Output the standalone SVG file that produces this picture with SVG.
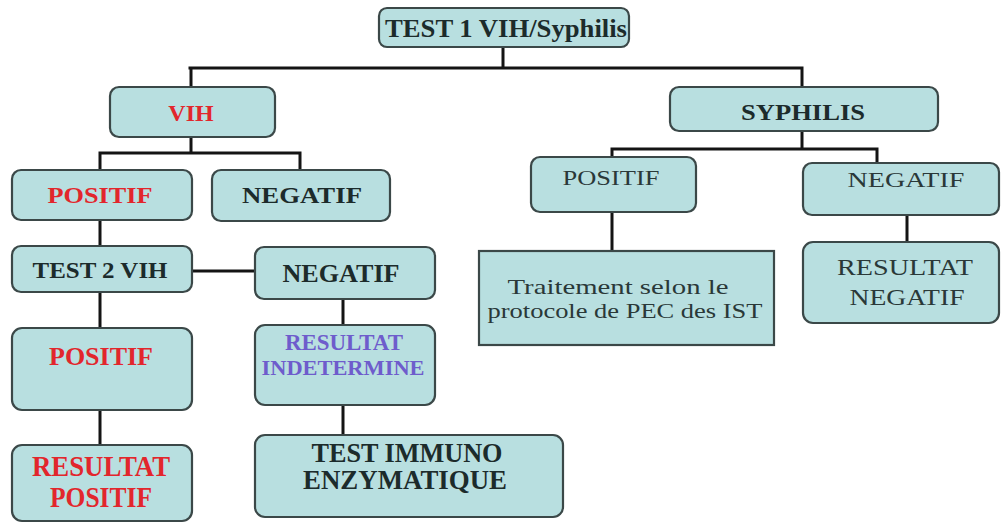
<svg xmlns="http://www.w3.org/2000/svg" width="1001" height="524" viewBox="0 0 1001 524">
<style>
.box{fill:#b8dfe0;stroke:#3b4848;stroke-width:2.2}
.t{font-family:"Liberation Serif","Times New Roman",serif;font-weight:bold;fill:#1c2b2b;text-anchor:middle}
.r{fill:#e2262c}
.p{fill:#6e5ccc}
.n{font-weight:normal;fill:#2a3838}
.c{stroke:#141414;stroke-width:3;fill:none;stroke-linecap:square}
</style>
<rect width="1001" height="524" fill="#ffffff"/>
<g id="connectors">
<path class="c" d="M503 47V68M190 68H802M191 68V87M802 68V87"/>
<path class="c" d="M191 137V153M100 153H300M100 153V170M300 153V170"/>
<path class="c" d="M802 131V149M612 149H877M612 149V157M877 149V163"/>
<path class="c" d="M612 212V251M907 215V242"/>
<path class="c" d="M100 220V246M192 271H255M100 292V328M100 410V445"/>
<path class="c" d="M343 299V325M343 405V435"/>
</g>
<g id="test1"><rect class="box" x="379" y="8" width="250" height="39" rx="8"/><text class="t" x="506" y="37" style="font-size:26px" textLength="242" lengthAdjust="spacingAndGlyphs">TEST 1 VIH/Syphilis</text></g>
<g id="vih"><rect class="box" x="110" y="87" width="165" height="50" rx="9"/><text class="t r" x="191" y="121" style="font-size:24px">VIH</text></g>
<g id="syphilis"><rect class="box" x="670" y="87" width="268" height="44" rx="9"/><text class="t" x="803" y="120" style="font-size:24px" textLength="124" lengthAdjust="spacingAndGlyphs">SYPHILIS</text></g>
<g id="vih-positif"><rect class="box" x="12" y="170" width="180" height="50" rx="9"/><text class="t r" x="100" y="203" style="font-size:24px" textLength="105" lengthAdjust="spacingAndGlyphs">POSITIF</text></g>
<g id="vih-negatif"><rect class="box" x="212" y="170" width="178" height="51" rx="9"/><text class="t" x="302" y="203" style="font-size:24px" textLength="120" lengthAdjust="spacingAndGlyphs">NEGATIF</text></g>
<g id="syph-positif"><rect class="box" x="531" y="157" width="165" height="55" rx="9"/><text class="t n" x="611" y="185" style="font-size:22px" textLength="97" lengthAdjust="spacingAndGlyphs">POSITIF</text></g>
<g id="syph-negatif"><rect class="box" x="803" y="163" width="196" height="52" rx="9"/><text class="t n" x="906" y="187" style="font-size:22px" textLength="117" lengthAdjust="spacingAndGlyphs">NEGATIF</text></g>
<g id="test2"><rect class="box" x="12" y="246" width="180" height="46" rx="9"/><text class="t" x="100" y="278" style="font-size:24px" textLength="135" lengthAdjust="spacingAndGlyphs">TEST 2 VIH</text></g>
<g id="negatif2"><rect class="box" x="255" y="247" width="180" height="52" rx="9"/><text class="t" x="341" y="282" style="font-size:26px" textLength="117" lengthAdjust="spacingAndGlyphs">NEGATIF</text></g>
<g id="traitement"><rect class="box" x="479" y="251" width="295" height="94"/><text class="t n" x="618" y="294" style="font-size:21px" textLength="221" lengthAdjust="spacingAndGlyphs">Traitement selon le</text><text class="t n" x="625" y="318" style="font-size:21px" textLength="275" lengthAdjust="spacingAndGlyphs">protocole de PEC des IST</text></g>
<g id="resultat-negatif"><rect class="box" x="803" y="242" width="196" height="81" rx="10"/><text class="t n" x="905" y="275" style="font-size:24px" textLength="136" lengthAdjust="spacingAndGlyphs">RESULTAT</text><text class="t n" x="907" y="305" style="font-size:24px" textLength="115" lengthAdjust="spacingAndGlyphs">NEGATIF</text></g>
<g id="positif2"><rect class="box" x="12" y="328" width="180" height="82" rx="10"/><text class="t r" x="101" y="365" style="font-size:26px" textLength="104" lengthAdjust="spacingAndGlyphs">POSITIF</text></g>
<g id="indetermine"><rect class="box" x="255" y="325" width="180" height="80" rx="10"/><text class="t p" x="344" y="350" style="font-size:24px" textLength="118" lengthAdjust="spacingAndGlyphs">RESULTAT</text><text class="t p" x="343" y="375" style="font-size:22px" textLength="163" lengthAdjust="spacingAndGlyphs">INDETERMINE</text></g>
<g id="resultat-positif"><rect class="box" x="12" y="445" width="180" height="76" rx="10"/><text class="t r" x="101" y="476" style="font-size:30px" textLength="138" lengthAdjust="spacingAndGlyphs">RESULTAT</text><text class="t r" x="101" y="507" style="font-size:30px" textLength="102" lengthAdjust="spacingAndGlyphs">POSITIF</text></g>
<g id="test-immuno"><rect class="box" x="255" y="435" width="308" height="82" rx="10"/><text class="t" x="407" y="462" style="font-size:27px" textLength="191" lengthAdjust="spacingAndGlyphs">TEST IMMUNO</text><text class="t" x="405" y="489" style="font-size:27px" textLength="204" lengthAdjust="spacingAndGlyphs">ENZYMATIQUE</text></g>
</svg>
